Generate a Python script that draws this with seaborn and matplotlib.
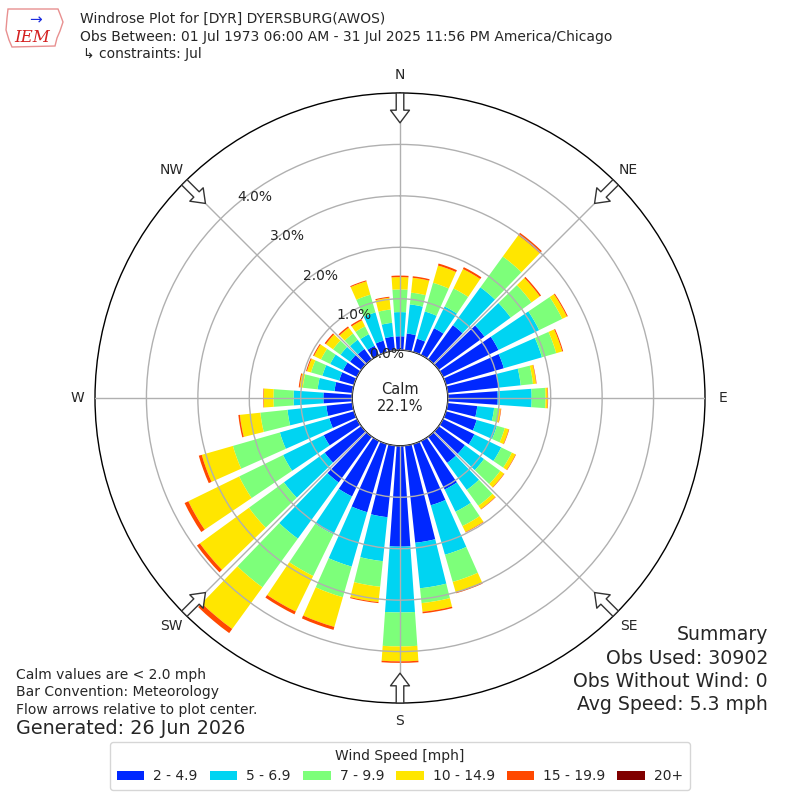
import numpy as np
import matplotlib
matplotlib.use("Agg")
import matplotlib.pyplot as plt
import seaborn as sns
from matplotlib.patches import Patch, Polygon

# ---------- DATA (percent of all obs, per 10 deg direction bin) ----------
directions = np.arange(0, 360, 10)

speed_labels = ["2 - 4.9", "5 - 6.9", "7 - 9.9", "10 - 14.9", "15 - 19.9", "20+"]
speed_colors = ["#0028ff", "#00d4f2", "#7dff7a", "#ffe600", "#ff4800", "#800000"]

spd_2_5 = [0.27, 0.33, 0.27, 0.58, 0.82, 1.10, 1.20, 1.17, 1.00, 0.97,
           0.58, 0.62, 0.68, 0.63, 0.63, 1.05, 1.24, 1.90, 1.96, 1.40,
           1.38, 1.20, 1.10, 0.88, 0.72, 0.50, 0.51, 0.56, 0.35, 0.30,
           0.30, 0.27, 0.25, 0.20, 0.23, 0.27]
spd_5_7 = [0.47, 0.57, 0.55, 0.47, 0.91, 0.63, 0.88, 0.77, 0.43, 0.66,
           0.33, 0.41, 0.58, 0.46, 0.65, 0.48, 1.00, 0.89, 1.28, 0.86,
           1.10, 0.82, 1.35, 0.98, 0.88, 1.00, 0.76, 0.58, 0.33, 0.34,
           0.28, 0.23, 0.22, 0.25, 0.57, 0.27]
spd_7_10 = [0.44, 0.23, 0.58, 0.39, 0.74, 0.50, 0.50, 0.29, 0.24, 0.27,
            0.09, 0.16, 0.23, 0.39, 0.38, 0.31, 0.55, 0.29, 0.66, 0.50,
            0.62, 0.90, 1.17, 0.84, 0.95, 0.95, 0.53, 0.39, 0.29, 0.23,
            0.20, 0.18, 0.15, 0.17, 0.36, 0.26]
spd_10_15 = [0.24, 0.29, 0.35, 0.42, 0.51, 0.20, 0.10, 0.12, 0.06, 0.04,
             0.04, 0.08, 0.08, 0.09, 0.08, 0.13, 0.21, 0.17, 0.29, 0.30,
             0.60, 0.77, 1.00, 1.18, 1.10, 0.63, 0.40, 0.19, 0.06, 0.08,
             0.15, 0.17, 0.14, 0.13, 0.27, 0.23]
spd_15_20 = [0.03, 0.03, 0.04, 0.04, 0.06, 0.03, 0.02, 0.02, 0.01, 0.01,
             0.01, 0.01, 0.01, 0.01, 0.01, 0.01, 0.02, 0.03, 0.03, 0.02,
             0.06, 0.06, 0.10, 0.07, 0.08, 0.06, 0.03, 0.01, 0.02, 0.02,
             0.02, 0.03, 0.03, 0.03, 0.02, 0.02]
spd_20_up = [0.0] * 36

calm_pct = 22.1
r_ticks = [0, 1, 2, 3, 4]
compass = ["N", "NE", "E", "SE", "S", "SW", "W", "NW"]
compass_deg = [0, 45, 90, 135, 180, 225, 270, 315]

# ---------- STYLE ----------
sns.set_style("white")
plt.rcParams["font.family"] = ["DejaVu Sans"]
palette = sns.color_palette(speed_colors)

fig = plt.figure(figsize=(8, 8), dpi=100)
ax = fig.add_axes([0.11875, 0.12125, 0.7625, 0.7625], projection="polar")
ax.set_theta_zero_location("N")
ax.set_theta_direction(-1)

# stacked bars
bands = [spd_2_5, spd_5_7, spd_7_10, spd_10_15, spd_15_20, spd_20_up]
theta = np.deg2rad(directions)
bottom = np.zeros(len(directions))
for vals, col in zip(bands, palette):
    vals = np.array(vals)
    ax.bar(theta, vals, width=np.deg2rad(8), bottom=bottom, color=col,
           linewidth=0, zorder=1)
    bottom = bottom + vals

ax.set_ylim(0, 5)
ax.set_rorigin(-0.93)
ax.set_axisbelow(False)
ax.grid(True, color="#b0b0b0", linewidth=1.0)
ax.set_xticks(np.deg2rad(compass_deg))
ax.set_xticklabels([])
ax.set_yticks(r_ticks)
ax.set_yticklabels([f"{t:.1f}%" for t in r_ticks], fontsize=10)
ax.set_rlabel_position(320)
for sp in ax.spines.values():
    sp.set_color("black")
    sp.set_linewidth(1.0)

# compass labels and inward flow arrows
for lab, deg in zip(compass, compass_deg):
    t = np.deg2rad(deg)
    ax.text(t, 5.35, lab, ha="center", va="center", fontsize=10)
    ax.annotate("", xy=(t, 4.42), xytext=(t, 5.0),
                arrowprops=dict(arrowstyle="simple,head_length=0.7,head_width=1.05,tail_width=0.42",
                                fc="white", ec="#333333", lw=1.0,
                                shrinkA=0, shrinkB=0, mutation_scale=13),
                zorder=5)

ax.text(0.5, 0.5, f"Calm\n{calm_pct:.1f}%", transform=ax.transAxes,
        ha="center", va="center", fontsize=10.5, zorder=6)

# ---------- HEADER ----------
fig.text(80 / 800, 1 - 19 / 800, "Windrose Plot for [DYR] DYERSBURG(AWOS)",
         fontsize=10, va="center")
fig.text(80 / 800, 1 - 37 / 800,
         "Obs Between: 01 Jul 1973 06:00 AM - 31 Jul 2025 11:56 PM America/Chicago",
         fontsize=10, va="center")
fig.text(83 / 800, 1 - 54 / 800, "\u21b3 constraints: Jul", fontsize=10, va="center")

# rough IEM logo (state outline + letters)
logo_x = [8, 58, 60, 63, 60, 57, 55, 12, 9, 6, 7]
logo_y = [9, 9, 14, 22, 31, 38, 46, 47, 40, 30, 18]
fig.patches.append(Polygon([(x / 800, 1 - y / 800) for x, y in zip(logo_x, logo_y)],
                           closed=True, transform=fig.transFigure, fill=False,
                           ec="#e89090", lw=1.0))
fig.text(32 / 800, 1 - 38 / 800, "IEM", color="#d42020", fontsize=12,
         family="DejaVu Serif", style="italic", ha="center", va="center")
fig.text(36 / 800, 1 - 20 / 800, "\u2192", color="#1a2adf", fontsize=11,
         ha="center", va="center")

# ---------- FOOTER ----------
fig.text(16 / 800, 1 - 675 / 800, "Calm values are < 2.0 mph", fontsize=10, va="center")
fig.text(16 / 800, 1 - 692 / 800, "Bar Convention: Meteorology", fontsize=10, va="center")
fig.text(16 / 800, 1 - 710 / 800, "Flow arrows relative to plot center.", fontsize=10, va="center")
fig.text(16 / 800, 1 - 729 / 800, "Generated: 26 Jun 2026", fontsize=13.8, va="center")

summary = ["Summary", "Obs Used: 30902", "Obs Without Wind: 0", "Avg Speed: 5.3 mph"]
for i, line in enumerate(summary):
    fig.text(768 / 800, 1 - (635 + 23.3 * i) / 800, line, fontsize=13.6,
             ha="right", va="center")

handles = [Patch(facecolor=c, edgecolor="none") for c in palette]
fig.legend(handles, speed_labels, loc="center", bbox_to_anchor=(0.5, 1 - 766 / 800),
           ncol=6, title="Wind Speed [mph]", fontsize=10, title_fontsize=10,
           frameon=True, handlelength=2.0, handleheight=0.7, columnspacing=0.85,
           handletextpad=0.65, borderpad=0.45)

fig.savefig("out.png", dpi=100)
